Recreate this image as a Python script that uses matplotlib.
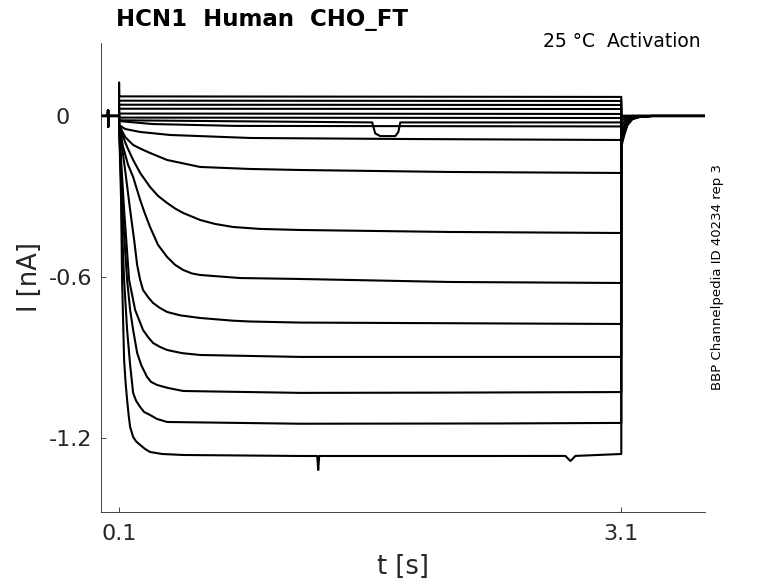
import numpy as np
import matplotlib
matplotlib.use("Agg")
import matplotlib.pyplot as plt
from matplotlib.transforms import ScaledTranslation

# ---------------- data ----------------
# holding period before the step (shared by every sweep), incl. small artifact
pre_t = [0.0, 0.033, 0.034, 0.035, 0.036, 0.1]
pre_i = [0.0, 0.0, 0.022, -0.04, 0.0, 0.0]

# step period (t = 0.1 .. 3.1 s): knots per sweep, top to bottom
step_times = [
    [0.1, 0.1008, 3.1],
    [0.1, 3.1],
    [0.1, 3.1],
    [0.1, 3.1],
    [0.1, 3.1],
    [0.1, 3.1],
    [0.1, 1.612, 1.630, 1.660, 1.750, 1.768, 1.780, 3.1],
    [0.1, 0.3, 0.8, 3.1],
    [0.1, 0.136, 0.226, 0.405, 0.883, 1.78, 3.1],
    [0.1, 0.136, 0.184, 0.232, 0.285, 0.387, 0.584, 0.883, 1.182, 2.078, 3.1],
    [0.1, 0.112, 0.148, 0.184, 0.226, 0.285, 0.333, 0.387, 0.435, 0.483, 0.584, 0.674,
     0.781, 0.943, 1.182, 2.078, 3.1],
    [0.1, 0.124, 0.154, 0.184, 0.226, 0.255, 0.285, 0.333, 0.387, 0.435, 0.483, 0.536,
     0.584, 0.823, 1.182, 2.078, 3.1],
    [0.1, 0.112, 0.136, 0.166, 0.190, 0.208, 0.226, 0.243, 0.273, 0.303, 0.345, 0.387,
     0.465, 0.584, 0.781, 0.883, 1.182, 3.1],
    [0.1, 0.112, 0.130, 0.160, 0.196, 0.243, 0.273, 0.303, 0.345, 0.387, 0.477, 0.584,
     1.182, 3.1],
    [0.1, 0.112, 0.124, 0.148, 0.166, 0.184, 0.208, 0.232, 0.267, 0.291, 0.327, 0.393,
     0.483, 1.182, 2.078, 3.1],
    [0.1, 0.112, 0.118, 0.130, 0.148, 0.166, 0.184, 0.202, 0.226, 0.249, 0.285, 0.327,
     0.387, 1.182, 2.377, 3.1],
    [0.1, 0.112, 0.118, 0.130, 0.139, 0.148, 0.157, 0.166, 0.184, 0.202, 0.226, 0.255,
     0.285, 0.357, 0.483, 1.182, 1.2835, 1.2895, 1.2954, 1.78, 2.377, 2.766, 2.796,
     2.826, 3.1],
]
step_currents = [
    [0.125, 0.073, 0.071],
    [0.057, 0.056],
    [0.042, 0.041],
    [0.027, 0.026],
    [0.009, 0.0075],
    [-0.006, -0.0075],
    [-0.016, -0.024, -0.065, -0.075, -0.075, -0.060, -0.024, -0.024],
    [-0.019, -0.030, -0.037, -0.039],
    [-0.0335, -0.0485, -0.0596, -0.0708, -0.082, -0.0857, -0.0895],
    [-0.0335, -0.0783, -0.108, -0.123, -0.1379, -0.164, -0.190, -0.1975, -0.2013,
     -0.2087, -0.2124],
    [-0.0335, -0.0596, -0.1155, -0.164, -0.2124, -0.2646, -0.298, -0.3243, -0.345,
     -0.3615, -0.3876, -0.4025, -0.4137, -0.421, -0.4249, -0.4323, -0.4361],
    [-0.0335, -0.1155, -0.1826, -0.2274, -0.3131, -0.365, -0.4137, -0.4808, -0.5255,
     -0.555, -0.574, -0.587, -0.5926, -0.604, -0.6075, -0.6187, -0.6224],
    [-0.0335, -0.0895, -0.2013, -0.3503, -0.4622, -0.5553, -0.6112, -0.6485, -0.675,
     -0.697, -0.716, -0.7305, -0.743, -0.7529, -0.763, -0.766, -0.770, -0.7752],
    [-0.0335, -0.164, -0.3503, -0.6112, -0.7231, -0.7976, -0.824, -0.846, -0.861,
     -0.8722, -0.884, -0.8908, -0.898, -0.898],
    [-0.0335, -0.2013, -0.3876, -0.6112, -0.7231, -0.7976, -0.8833, -0.928, -0.9728,
     -0.991, -1.0026, -1.0138, -1.025, -1.032, -1.031, -1.029],
    [-0.0335, -0.2385, -0.4249, -0.6112, -0.7976, -0.928, -1.0324, -1.062, -1.0846,
     -1.103, -1.1144, -1.1293, -1.1405, -1.147, -1.146, -1.144],
    [-0.0335, -0.3131, -0.6112, -0.9094, -0.995, -1.0585, -1.1144, -1.1591, -1.1964,
     -1.213, -1.2262, -1.241, -1.2523, -1.2598, -1.2635, -1.2672, -1.2672, -1.3194,
     -1.2672, -1.2672, -1.2672, -1.267, -1.286, -1.267, -1.2598],
]

# return to holding after the step (tail currents)
tail_t = [3.1, 3.118, 3.136, 3.166, 3.208, 3.283, 3.6]
tail_currents = [
    [0, 0, 0, 0, 0, 0, 0],
    [0, 0, 0, 0, 0, 0, 0],
    [0, 0, 0, 0, 0, 0, 0],
    [0, 0, 0, 0, 0, 0, 0],
    [0, 0, 0, 0, 0, 0, 0],
    [0, 0, 0, 0, 0, 0, 0],
    [0, 0, 0, 0, 0, 0, 0],
    [-0.003, -0.002, -0.001, 0, 0, 0, 0],
    [-0.007, -0.004, -0.002, 0, 0, 0, 0],
    [-0.018, -0.011, -0.006, -0.002, 0, 0, 0],
    [-0.035, -0.021, -0.011, -0.004, -0.001, 0, 0],
    [-0.055, -0.033, -0.017, -0.006, -0.002, 0, 0],
    [-0.070, -0.043, -0.021, -0.007, -0.002, 0, 0],
    [-0.083, -0.050, -0.025, -0.009, -0.003, 0, 0],
    [-0.095, -0.058, -0.029, -0.010, -0.003, 0, 0],
    [-0.105, -0.064, -0.032, -0.011, -0.004, 0, 0],
    [-0.115, -0.070, -0.035, -0.012, -0.004, 0, 0],
]

x_ticks = [0.1, 3.1]
x_tick_labels = ["0.1", "3.1"]
y_ticks = [-1.2, -0.6, 0]
y_tick_labels = ["-1.2", "-0.6", "0"]

# ---------------- figure ----------------
W, H = 778, 583
fig = plt.figure(figsize=(W / 100, H / 100), dpi=100)
ax = fig.add_axes([101 / W, 71 / H, 604 / W, 469 / H])

for st, si, tc in zip(step_times, step_currents, tail_currents):
    t = np.concatenate([pre_t, st, tail_t])
    i = np.concatenate([pre_i, si, tc])
    ax.plot(t, i, color="black", lw=1.5, solid_joinstyle="round")

ax.set_xlim(-0.008, 3.6)
ax.set_ylim(-1.476, 0.272)

axcol = "#262626"
for s in ["top", "right"]:
    ax.spines[s].set_visible(False)
for s in ["left", "bottom"]:
    ax.spines[s].set_color(axcol)
    ax.spines[s].set_linewidth(0.6)

ax.set_xticks(x_ticks)
ax.set_xticklabels(x_tick_labels)
ax.set_yticks(y_ticks)
ax.set_yticklabels(y_tick_labels)
ax.tick_params(direction="in", length=3.6, width=0.6, color=axcol,
               labelcolor=axcol, labelsize=16)
ax.tick_params(axis="x", pad=9)
ax.tick_params(axis="y", pad=6)

# the "0" label sits further left in the reference
for lab in ax.get_yticklabels():
    if lab.get_text() == "0":
        lab.set_transform(lab.get_transform() +
                          ScaledTranslation(-23 / 100, 0, fig.dpi_scale_trans))

ax.set_xlabel("t [s]", fontsize=18.5, color=axcol, va="center")
ax.xaxis.set_label_coords((403 - 101) / 604, (512 - 567) / 469)
ax.set_ylabel("I [nA]", fontsize=18.5, color=axcol, va="center")
ax.yaxis.set_label_coords((30 - 101) / 604, (512 - 277) / 469)

ax.set_title("HCN1  Human  CHO_FT", loc="left", fontsize=16.5, fontweight="bold",
             x=(116 - 101) / 604, y=(512 - 26) / 469, pad=0)

fig.text(543 / W, 1 - 47.3 / H, "25 °C  Activation", fontsize=13.5,
         ha="left", va="baseline", color="black")
fig.text(717 / W, 1 - 277 / H, "BBP Channelpedia ID 40234 rep 3", fontsize=9.5,
         rotation=90, ha="center", va="center", color="black")

fig.savefig("out.png", dpi=100)
